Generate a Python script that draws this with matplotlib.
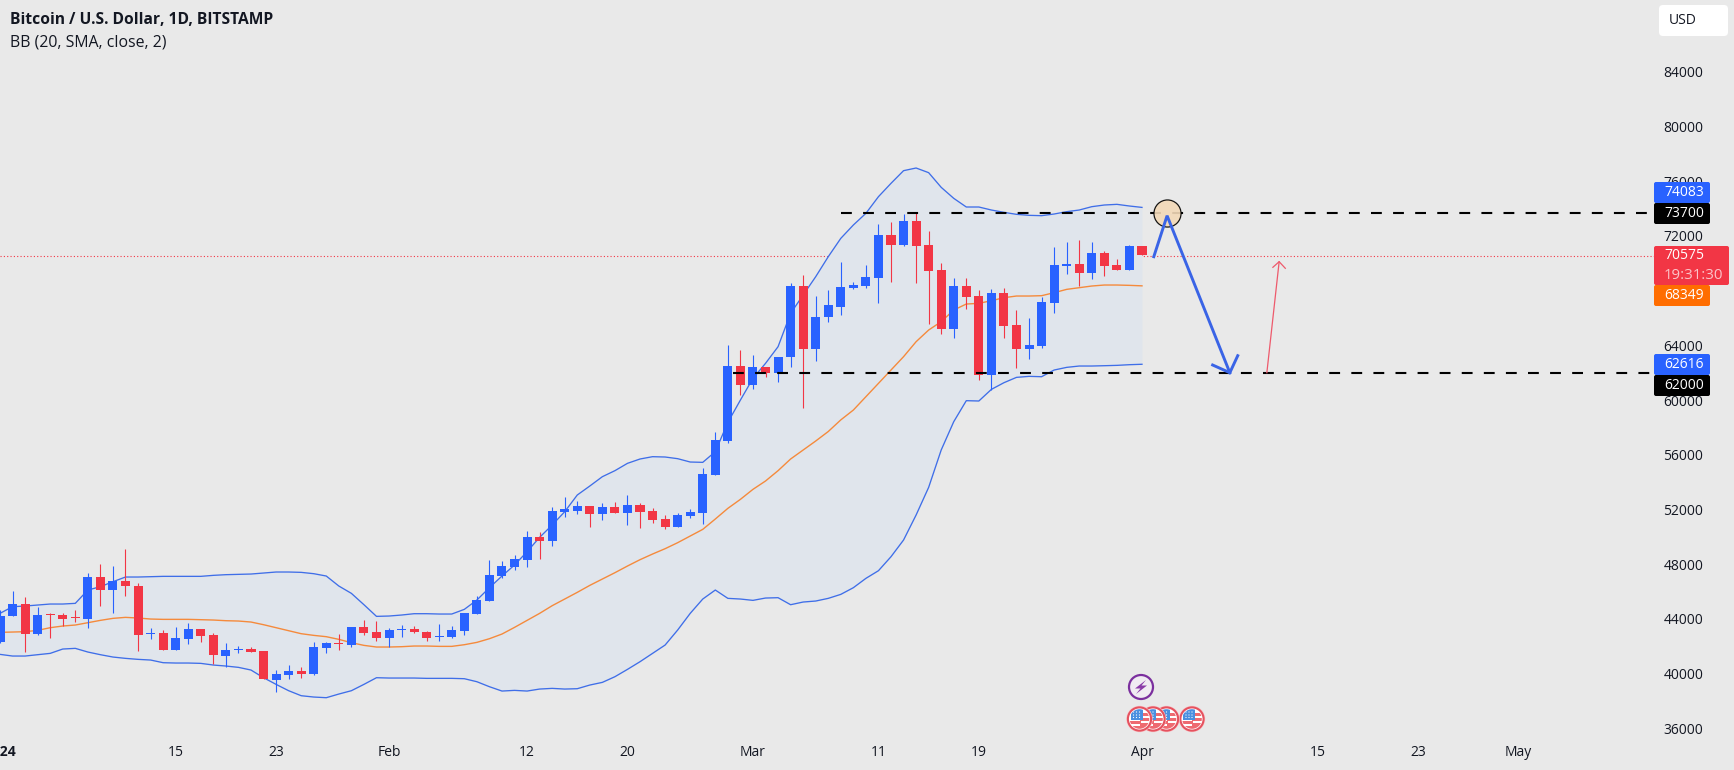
import numpy as np
import matplotlib
matplotlib.use('Agg')
import matplotlib.pyplot as plt
from matplotlib.patches import Circle, FancyBboxPatch, Polygon, Rectangle
from matplotlib.transforms import Affine2D

W, H = 1734, 770
plt.rcParams['font.family'] = ['Open Sans', 'DejaVu Sans']

BG = '#e9e9e9'
BLUE = '#2962ff'
RED = '#f23645'
ORANGE = '#ff6d00'

# daily candles, first one is 1 Jan 2024
opens = [42336, 44237, 45066, 42921, 44334, 44286, 44091, 43993, 47064, 46138, 46772, 46406, 42921, 42945, 41727, 42556,
         43262, 42824, 41313, 41727, 41775, 41654, 39558, 39899, 40192, 39997, 41898, 42214, 42117, 43384, 43018, 42629,
         43189, 43238, 43067, 42653, 42677, 43139, 44383, 45333, 47112, 47819, 48331, 49988, 49720, 51840, 51913, 52230,
         51694, 52157, 51767, 52303, 51864, 51280, 50743, 51548, 51767, 54545, 57029, 62463, 61123, 62390, 62000, 63121,
         68336, 63754, 66094, 66825, 68214, 68336, 68945, 72040, 71334, 73064, 71309, 69481, 65216, 68336, 67605, 61829,
         67800, 65460, 63754, 63974, 67117, 69823, 69920, 69286, 70724, 69847, 69530, 71236]
highs = [44651, 46065, 45626, 44895, 44456, 44408, 44651, 47332, 48015, 47893, 49111, 46601, 43335, 43189, 43433, 43725,
         43262, 42994, 42214, 42044, 41971, 41654, 40265, 40630, 40460, 42312, 42336, 42897, 43384, 43920, 43871, 43335,
         43555, 43482, 43116, 43627, 43481, 44407, 45674, 48306, 48209, 48672, 50427, 50378, 52157, 52888, 52620, 52230,
         52498, 52547, 53083, 52449, 52084, 51621, 51718, 52059, 55008, 57640, 64023, 63657, 63291, 62439, 63121, 68580,
         69140, 67605, 68044, 70115, 68653, 69871, 72869, 73015, 73600, 73697, 72357, 69993, 68897, 68897, 68044, 68117,
         68190, 66582, 66021, 67556, 71212, 71577, 71699, 71577, 70919, 70310, 71358, 71236]
lows = [42214, 44237, 41580, 42799, 42580, 43506, 43798, 43311, 44968, 44408, 45675, 41654, 42556, 41727, 41727, 42166,
        42287, 40704, 40460, 41483, 41580, 39607, 38681, 39583, 39680, 39924, 41483, 41727, 41971, 42824, 42361, 41922,
        42702, 42994, 42385, 42409, 42604, 42823, 44383, 45333, 46990, 47575, 47819, 48379, 49330, 51426, 51669, 50743,
        51231, 51767, 50841, 50646, 51036, 50597, 50695, 51353, 50938, 54545, 56834, 60367, 60830, 61683, 61342, 62439,
        59392, 62828, 65680, 66216, 68092, 68190, 67117, 68604, 71285, 68531, 65558, 64802, 64510, 66630, 61464, 60733,
        64559, 62341, 63023, 63803, 66338, 69213, 68360, 68848, 69067, 69530, 69506, 70575]
closes = [44237, 45066, 42921, 44286, 44262, 44018, 44042, 47040, 46138, 46796, 46430, 42848, 42970, 41727, 42580, 43238,
          42775, 41386, 41702, 41775, 41580, 39607, 39948, 40167, 39997, 41922, 42239, 42141, 43384, 42970, 42604, 43189,
          43238, 43067, 42604, 42726, 43164, 44407, 45382, 47185, 47868, 48355, 49963, 49695, 51864, 52035, 52230, 51694,
          52157, 51767, 52303, 51840, 51255, 50743, 51572, 51791, 54569, 57055, 62463, 61123, 62390, 62000, 63121, 68336,
          63754, 66045, 66923, 68238, 68385, 68970, 72040, 71334, 73064, 71285, 69457, 65216, 68336, 67556, 61829, 67800,
          65436, 63754, 63998, 67142, 69847, 69920, 69286, 70724, 69823, 69530, 71260, 70575]

# bollinger bands
bb_upper = [44408, 44895, 44944, 45017, 45090, 45090, 45139, 46114, 46357, 46723, 47064, 47064, 47088, 47113, 47113, 47113,
            47113, 47186, 47235, 47259, 47283, 47356, 47430, 47430, 47405, 47308, 47137, 46406, 45870, 45041, 44188, 44213,
            44286, 44383, 44383, 44359, 44359, 44700, 45382, 46284, 47137, 47941, 48916, 49964, 50865, 51840, 53059, 53717,
            54399, 54838, 55374, 55691, 55861, 55837, 55715, 55471, 55447, 56227, 58369, 60001, 61586, 62682, 63901, 66338,
            67678, 69018, 70480, 71821, 72796, 73649, 74867, 75842, 76768, 76963, 76622, 75550, 74745, 74112, 74112, 73892,
            73722, 73576, 73503, 73478, 73600, 73771, 73892, 74136, 74258, 74307, 74185, 74083]
bb_basis = [43019, 43043, 43067, 43165, 43360, 43482, 43555, 43725, 43896, 44042, 44115, 44067, 43993, 43969, 43969, 43969,
            43945, 43920, 43871, 43847, 43774, 43579, 43360, 43140, 42921, 42799, 42702, 42507, 42263, 42068, 41947, 41947,
            41971, 42020, 42020, 41995, 41995, 42116, 42287, 42555, 42896, 43383, 43895, 44407, 44968, 45455, 45943, 46454,
            46917, 47380, 47868, 48331, 48745, 49135, 49574, 50061, 50548, 51304, 52084, 52742, 53473, 54082, 54838, 55691,
            56348, 57006, 57700, 58550, 59270, 60245, 61220, 62195, 63170, 64266, 65119, 65729, 66582, 67020, 67069, 67264,
            67483, 67605, 67605, 67629, 67849, 68092, 68214, 68336, 68409, 68409, 68385, 68349]
bb_lower = [41410, 41288, 41288, 41386, 41483, 41800, 41849, 41581, 41386, 41215, 41118, 41045, 40996, 40801, 40777, 40777,
            40752, 40630, 40557, 40460, 40265, 39704, 39217, 38754, 38388, 38291, 38242, 38510, 38754, 39217, 39704, 39680,
            39680, 39680, 39656, 39656, 39656, 39631, 39411, 39046, 38729, 38778, 38729, 38875, 38924, 38875, 38900, 39168,
            39363, 39777, 40313, 40874, 41483, 42092, 43189, 44407, 45455, 46113, 45504, 45455, 45358, 45528, 45553, 45040,
            45236, 45309, 45504, 45796, 46284, 46966, 47526, 48550, 49769, 51596, 53619, 56349, 58420, 59955, 59931, 60781,
            61269, 61659, 61732, 61707, 62195, 62390, 62488, 62488, 62511, 62536, 62585, 62616]

price_ticks = list(range(36000, 88000, 4000))
date_ticks = [-1, 13, 21, 30, 41, 49, 59, 69, 77, 90, 104, 112, 120]
date_labels = ['2024', '15', '23', 'Feb', '12', '20', 'Mar', '11', '19', 'Apr', '15', '23', 'May']

last_price = 70520
levels = [73700, 62000]
level_start = [66.0, 57.4]

# hand drawn arrows on the chart
short_x = [90.94, 92.0, 97.0]
short_p = [70480, 73477, 62000]
short_head_x = [95.63, 97.0, 97.63]
short_head_p = [62563, 62000, 63243]
long_x = [99.95, 100.93]
long_p = [62000, 70114]
long_head_x = [100.43, 100.93, 101.42]
long_head_p = [69705, 70114, 69632]
circle_x = 92.0
circle_p = 73650

x = np.arange(-1, 91)
opens, highs, lows, closes = map(np.array, (opens, highs, lows, closes))
up = closes >= opens
candle_colors = np.where(up, BLUE, RED)

fig = plt.figure(figsize=(W / 100, H / 100), dpi=100, facecolor=BG)
ax = fig.add_axes([0, 1 - 735 / H, 1654 / W, 735 / H], facecolor=BG)
ax.set_xlim(-0.78, 130.8)
ax.set_ylim(35516, 89244)
for s in ax.spines.values():
    s.set_visible(False)

ax.axhline(last_price, color=RED, lw=0.8, ls=(0, (1, 2)), zorder=1)
ax.fill_between(x, bb_lower, bb_upper, color='#e0e5ec', lw=0, zorder=1.5)
ax.plot(x, bb_upper, color='#3f6ee8', lw=0.95, zorder=2)
ax.plot(x, bb_lower, color='#3f6ee8', lw=0.95, zorder=2)
ax.plot(x, bb_basis, color='#f58a3c', lw=1.0, zorder=2)

ax.vlines(x, lows, highs, colors=candle_colors, lw=0.8, zorder=3)
ax.bar(x, np.maximum(np.abs(closes - opens), 70), bottom=np.minimum(opens, closes), width=0.72,
       color=candle_colors, lw=0, zorder=3)

for lvl, start in zip(levels, level_start):
    ax.plot([start, 130.8], [lvl, lvl], color='black', lw=1.5, ls=(0, (5.2, 5.4)), zorder=4)

ax.plot([circle_x], [circle_p], 'o', ms=19.5, mfc='#f3d9b8', mec='black', mew=0.9, alpha=0.9, zorder=4.5)
ax.plot(short_x, short_p, color='#3a64e6', lw=2.1, zorder=5, solid_joinstyle='miter')
ax.plot(short_head_x, short_head_p, color='#3a64e6', lw=2.1, zorder=5, solid_joinstyle='miter')
ax.plot(long_x, long_p, color='#ee5a6c', lw=0.9, zorder=5)
ax.plot(long_head_x, long_head_p, color='#ee5a6c', lw=0.9, zorder=5)

ax.set_yticks(price_ticks)
ax.set_yticklabels([str(p) for p in price_ticks])
ax.yaxis.tick_right()
ax.tick_params(axis='y', length=0, pad=6.8, labelsize=10, labelcolor='#131722')
ax.set_xticks(date_ticks)
ax.set_xticklabels(date_labels)
ax.tick_params(axis='x', length=0, pad=7, labelsize=10, labelcolor='#131722')
ax.get_xticklabels()[0].set_fontweight('bold')

# pixel coords for the overlay bits (labels, legend, icons)
px = Affine2D().scale(1 / W, -1 / H).translate(0, 1) + fig.transFigure


def label_box(y0, y1, x1, color, lines):
    box = FancyBboxPatch((1654, y0), x1 - 1654, y1 - y0, boxstyle='round,pad=0,rounding_size=2',
                         fc=color, ec='none', transform=px, zorder=6)
    fig.add_artist(box)
    step = (y1 - y0) / len(lines)
    for n, (txt, col, size) in enumerate(lines):
        fig.text(1664 / W, 1 - (y0 + step * (n + 0.5)) / H, txt, color=col, fontsize=size,
                 ha='left', va='center', zorder=7)


label_box(182, 203, 1710, BLUE, [('74083', 'white', 10)])
label_box(203, 224, 1710, 'black', [('73700', 'white', 10)])
label_box(285, 306, 1710, ORANGE, [('68349', 'white', 10)])
label_box(246, 285, 1729, RED, [('70575', 'white', 10), ('19:31:30', '#fbc4c9', 10.8)])
label_box(354, 375, 1710, BLUE, [('62616', 'white', 10)])
label_box(375, 396, 1710, 'black', [('62000', 'white', 10)])

fig.add_artist(FancyBboxPatch((1659, 5), 69, 31, boxstyle='round,pad=0,rounding_size=4',
                              fc='white', ec='none', transform=px, zorder=6))
fig.text(1683 / W, 1 - 20.5 / H, 'USD', color='#131722', fontsize=10, ha='center', va='center', zorder=7)

fig.text(10 / W, 1 - 20.5 / H, 'Bitcoin / U.S. Dollar, 1D, BITSTAMP', fontsize=11.25, fontweight='bold',
         color='#131722', va='center')
fig.text(10 / W, 1 - 42.5 / H, 'BB (20, SMA, close, 2)', fontsize=11.4, color='#131722', va='center')


def flag_icon(cx, cy, z):
    fig.add_artist(Circle((cx, cy), 13.2, fc='#f9c4c7', ec='none', transform=px, zorder=z))
    fig.add_artist(Circle((cx, cy), 11.6, fc='white', ec='#e5525f', lw=1.5, transform=px, zorder=z + 0.01))
    clip = Circle((cx, cy), 9.8, transform=px)
    parts = []
    for dy in (-6, -1, 4):
        parts.append(Rectangle((cx, cy + dy), 11, 2.6, fc='#ee6a70', ec='none'))
    parts.append(Rectangle((cx - 10, cy + 2), 11, 2.6, fc='#ee6a70', ec='none'))
    parts.append(Rectangle((cx - 10, cy + 6.5), 20, 4, fc='#ee6a70', ec='none'))
    parts.append(Rectangle((cx - 9, cy - 10), 12, 10.5, fc='#4a8fe0', ec='none'))
    for dx in (-6, -3, 0):
        for dy in (-7, -4, -1.5):
            parts.append(Circle((cx + dx, cy + dy), 0.6, fc='white', ec='none'))
    for part in parts:
        part.set_transform(px)
        part.set_zorder(z + 0.02)
        part.set_clip_path(clip)
        fig.add_artist(part)


fig.add_artist(Circle((1141, 687), 12, fc='#f0ebf2', ec='#7b2f9e', lw=1.6, transform=px, zorder=6))
fig.add_artist(Polygon([(1146, 680), (1135, 688.5), (1140.5, 688.5), (1136, 694), (1147, 685.5), (1141.5, 685.5)],
                       fc='#8a3aa8', ec='none', transform=px, zorder=6.1))
# leftmost flag sits on top of the pile
flag_icon(1192, 719, 6.0)
flag_icon(1166.5, 719, 6.1)
flag_icon(1153, 719, 6.2)
flag_icon(1139.5, 719, 6.3)

fig.savefig('out.png', dpi=100, facecolor=BG)
